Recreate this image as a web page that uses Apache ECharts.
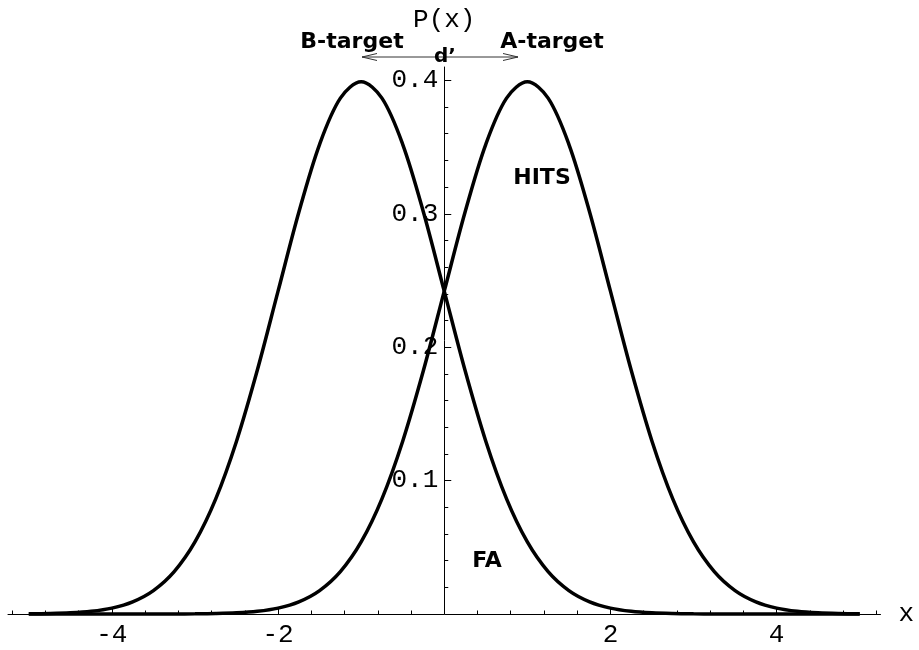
<!DOCTYPE html>
<html>
<head>
<meta charset="utf-8">
<script src="https://cdn.jsdelivr.net/npm/echarts@6/dist/echarts.min.js"></script>
<style>
html,body{margin:0;padding:0;background:#fff;}
#chart{width:919px;height:650px;}
</style>
</head>
<body>
<div id="chart"></div>
<script>
// x positions of the sampled points
const xValues = [-5, -4.75, -4.5, -4.25, -4, -3.75, -3.5, -3.25, -3, -2.75, -2.5, -2.25, -2, -1.75, -1.5, -1.25, -1, -0.75, -0.5, -0.25, 0,
  0.25, 0.5, 0.75, 1, 1.25, 1.5, 1.75, 2, 2.25, 2.5, 2.75, 3, 3.25, 3.5, 3.75, 4, 4.25, 4.5, 4.75, 5];
// A-target distribution (centred at +1)
const aTarget = [0, 0, 0, 0, 0, 0.00001, 0.00002, 0.00005, 0.00013, 0.00035, 0.00087, 0.00203, 0.00443, 0.00909, 0.01753, 0.03174, 0.05399, 0.08628, 0.12952, 0.18265, 0.24197,
  0.30114, 0.35207, 0.38667, 0.39894, 0.38667, 0.35207, 0.30114, 0.24197, 0.18265, 0.12952, 0.08628, 0.05399, 0.03174, 0.01753, 0.00909, 0.00443, 0.00203, 0.00087, 0.00035, 0.00013];
// B-target distribution (centred at -1)
const bTarget = [0.00013, 0.00035, 0.00087, 0.00203, 0.00443, 0.00909, 0.01753, 0.03174, 0.05399, 0.08628, 0.12952, 0.18265, 0.24197, 0.30114, 0.35207, 0.38667, 0.39894, 0.38667, 0.35207, 0.30114, 0.24197,
  0.18265, 0.12952, 0.08628, 0.05399, 0.03174, 0.01753, 0.00909, 0.00443, 0.00203, 0.00087, 0.00035, 0.00013, 0.00005, 0.00002, 0.00001, 0, 0, 0, 0, 0];
// tick labels / tick positions
const xMajorTicks = [-4, -2, 2, 4];
const xMinorTicks = [-5.2, -4.8, -4.4, -3.6, -3.2, -2.8, -2.4, -1.6, -1.2, -0.8, -0.4, 0.4, 0.8, 1.2, 1.6, 2.4, 2.8, 3.2, 3.6, 4.4, 4.8, 5.2];
const yMajorTicks = [0.1, 0.2, 0.3, 0.4];
const yMinorTicks = [0.02, 0.04, 0.06, 0.08, 0.12, 0.14, 0.16, 0.18, 0.22, 0.24, 0.26, 0.28, 0.32, 0.34, 0.36, 0.38];

const X_MIN = -5.25, X_MAX = 5.25, Y_MIN = 0, Y_MAX = 0.41;
const monoFont = '"Courier New", "Liberation Mono", monospace';
const boldFont = '"DejaVu Sans", sans-serif';

const chart = echarts.init(document.getElementById('chart'), null, {renderer: 'canvas'});
const G_LEFT = 8, G_RIGHT = 38.5, G_TOP = 67, G_BOTTOM = 36;
const gridPos = {left: G_LEFT, right: G_RIGHT, top: G_TOP, bottom: G_BOTTOM, containLabel: false, outerBoundsMode: 'none'};
// shift the vertical axis from the grid's left edge to x = 0
const gridWidth = 919 - G_LEFT - G_RIGHT;
const yAxisOffset = -((0 - X_MIN) / (X_MAX - X_MIN)) * gridWidth;

function pairs(xs, ys) { return xs.map((x, i) => [x, ys[i]]); }

function textEl(txt, x, y, size) {
  return {
    type: 'text', x: x, y: y, z: 10,
    style: {
      text: txt, fill: '#000',
      font: 'bold ' + size + 'px ' + boldFont,
      textAlign: 'center', textVerticalAlign: 'middle',
      align: 'center', verticalAlign: 'middle'
    }
  };
}

const option = {
  animation: false,
  backgroundColor: '#fff',
  grid: [
    Object.assign({}, gridPos),
    Object.assign({}, gridPos)
  ],
  xAxis: [
    {
      type: 'value', gridIndex: 0, min: X_MIN, max: X_MAX, position: 'bottom',
      name: 'x', nameLocation: 'end', nameGap: 18,
      nameTextStyle: {fontFamily: monoFont, fontSize: 26, color: '#000', verticalAlign: 'middle'},
      axisLine: {show: true, onZero: false, lineStyle: {color: '#000', width: 1}},
      axisTick: {show: true, inside: true, length: 7, customValues: xMajorTicks, lineStyle: {color: '#000', width: 1}},
      axisLabel: {show: true, customValues: xMajorTicks, margin: 8, fontFamily: monoFont, fontSize: 26, color: '#000'},
      splitLine: {show: false}
    },
    {
      type: 'value', gridIndex: 1, min: X_MIN, max: X_MAX, position: 'bottom',
      axisLine: {show: false, onZero: false},
      axisTick: {show: true, inside: true, length: 3.5, customValues: xMinorTicks, lineStyle: {color: '#000', width: 1}},
      axisLabel: {show: false},
      splitLine: {show: false}
    }
  ],
  yAxis: [
    {
      type: 'value', gridIndex: 0, min: Y_MIN, max: Y_MAX, position: 'left', offset: yAxisOffset,
      name: 'P(x)', nameLocation: 'end', nameGap: 34,
      nameTextStyle: {fontFamily: monoFont, fontSize: 26, color: '#000', align: 'center'},
      axisLine: {show: true, onZero: false, lineStyle: {color: '#000', width: 1}},
      axisTick: {show: true, inside: true, length: 7, customValues: yMajorTicks, lineStyle: {color: '#000', width: 1}},
      axisLabel: {show: true, customValues: yMajorTicks, margin: 6, fontFamily: monoFont, fontSize: 26, color: '#000',
        formatter: v => v.toFixed(1)},
      splitLine: {show: false}
    },
    {
      type: 'value', gridIndex: 1, min: Y_MIN, max: Y_MAX, position: 'left', offset: yAxisOffset,
      axisLine: {show: false, onZero: false},
      axisTick: {show: true, inside: true, length: 4, customValues: yMinorTicks, lineStyle: {color: '#000', width: 1}},
      axisLabel: {show: false},
      splitLine: {show: false}
    }
  ],
  series: [
    {
      name: 'B-target', type: 'line', xAxisIndex: 0, yAxisIndex: 0,
      data: pairs(xValues, bTarget), smooth: 0.33, showSymbol: false, clip: false, z: 5,
      lineStyle: {color: '#000', width: 3.5}
    },
    {
      name: 'A-target', type: 'line', xAxisIndex: 0, yAxisIndex: 0,
      data: pairs(xValues, aTarget), smooth: 0.33, showSymbol: false, clip: false, z: 5,
      lineStyle: {color: '#000', width: 3.5}
    }
  ],
  graphic: [
    // d' arrow
    {type: 'polyline', z: 9, shape: {points: [[362, 57], [518, 57]]}, style: {stroke: '#333', lineWidth: 1, fill: null}},
    {type: 'polyline', z: 9, shape: {points: [[377, 53.5], [362, 57], [377, 60.5]]}, style: {stroke: '#333', lineWidth: 1, fill: null}},
    {type: 'polyline', z: 9, shape: {points: [[503, 53.5], [518, 57], [503, 60.5]]}, style: {stroke: '#333', lineWidth: 1, fill: null}},
    textEl('B-target', 352, 42, 22),
    textEl('A-target', 552, 42, 22),
    textEl('d\u2019', 445, 57, 20),
    textEl('HITS', 542, 178, 22),
    textEl('FA', 487, 561, 22)
  ]
};
chart.setOption(option);
</script>
</body>
</html>
